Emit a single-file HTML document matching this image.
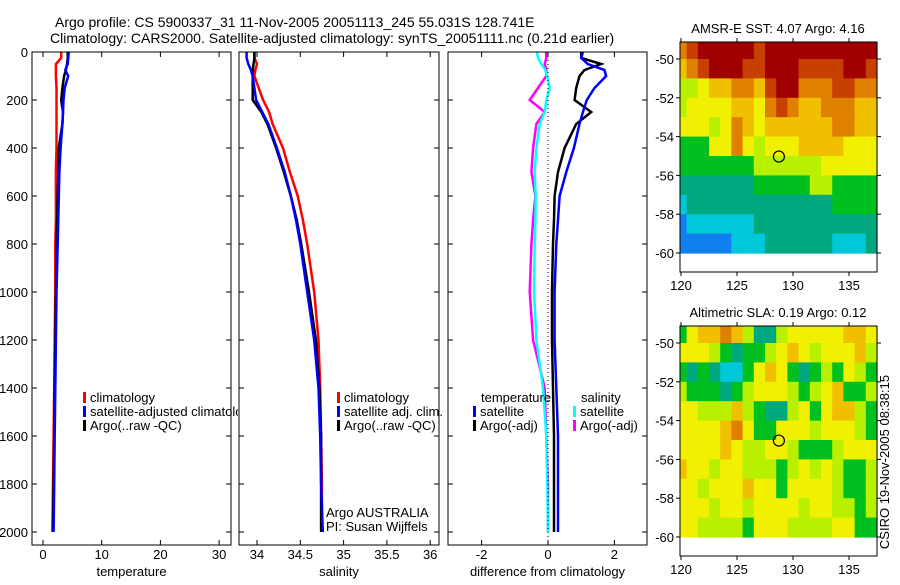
<!DOCTYPE html>
<html><head><meta charset="utf-8"><style>
body{margin:0;background:#fff;}
svg text{font-family:"Liberation Sans",sans-serif;fill:#000;}
</style></head><body>
<svg id="fig" width="900" height="580" xmlns="http://www.w3.org/2000/svg">
<defs><clipPath id="clip1"><rect x="0" y="0" width="238" height="580"/></clipPath></defs>
<text x="55" y="27" font-size="14">Argo profile: CS 5900337_31 11-Nov-2005 20051113_245 55.031S 128.741E</text>
<text x="50" y="43" font-size="14">Climatology: CARS2000. Satellite-adjusted climatology: synTS_20051111.nc (0.21d earlier)</text>
</svg>
<script>
const depths=[0,25,50,75,100,150,200,250,300,400,500,600,700,800,1000,1200,1400,1600,1800,2000];
const depthTicks=[0,200,400,600,800,1000,1200,1400,1600,1800,2000];
const tempClim=[3.1,3.1,2.2,2.2,2.2,2.3,2.3,2.3,2.3,2.3,2.2,2.2,2.2,2.1,2.1,2.0,1.9,1.8,1.7,1.6];
const tempSatAdj=[4.4,4.3,4.2,3.8,4.3,3.7,3.5,3.4,3.3,3.0,2.8,2.7,2.6,2.5,2.3,2.2,2.1,2.0,1.9,1.8];
const tempArgo=[4.2,4.2,4.1,3.9,3.6,3.3,3.1,3.4,3.3,2.7,2.6,2.5,2.4,2.3,2.2,2.1,2.0,1.9,1.8,1.7];
const salClim=[33.97,33.97,34.0,33.98,33.97,34.02,34.07,34.14,34.18,34.3,34.38,34.47,34.53,34.58,34.66,34.71,34.73,34.74,34.75,34.75];
const salSatAdj=[33.88,33.88,33.9,33.93,33.95,33.97,33.99,34.06,34.13,34.23,34.32,34.39,34.45,34.5,34.58,34.66,34.71,34.73,34.74,34.76];
const salArgo=[33.97,33.97,33.96,33.95,33.95,33.95,33.95,34.05,34.12,34.22,34.31,34.39,34.46,34.51,34.6,34.68,34.72,34.74,34.74,34.74];
const diffTempSat=[1.05,1.0,1.2,1.7,1.75,1.4,1.17,1.05,0.95,0.78,0.55,0.35,0.3,0.25,0.2,0.2,0.25,0.3,0.3,0.3];
const diffTempArgo=[1.0,1.0,1.6,1.1,0.95,0.85,0.8,1.3,0.85,0.5,0.3,0.2,0.18,0.15,0.12,0.12,0.15,0.18,0.18,0.18];
const diffSalSat=[-0.33,-0.3,-0.2,-0.08,-0.03,0.05,-0.05,-0.1,-0.25,-0.35,-0.4,-0.37,-0.38,-0.4,-0.42,-0.35,-0.15,-0.05,-0.02,0];
const diffSalArgo=[-0.06,-0.05,-0.1,-0.05,-0.05,-0.3,-0.55,-0.1,-0.35,-0.45,-0.5,-0.38,-0.45,-0.5,-0.55,-0.45,-0.1,-0.05,0,0];
const tempTicks=[0,10,20,30];
const salTicks=[34,34.5,35,35.5,36];
const salTickLabels=["34","34.5","35","35.5","36"];
const diffTicks=[-2,0,2];
const lonTicks=[120,125,130,135];
const latTicks=[-50,-52,-54,-56,-58,-60];
const mapLons=[120,121,122,123,124,125,126,127,128,129,130,131,132,133,134,135,136,137];
const mapLats=[-49.5,-50.5,-51.5,-52.5,-53.5,-54.5,-55.5,-56.5,-57.5,-58.5,-59.5];
const sstGrid=[
[8,9,10,10,10,10,10,9,10,10,10,10,10,10,10,10,10,10],
[7,8,9,10,10,10,9,9,10,10,10,9,9,9,9,10,10,9],
[5,5,6,7,7,8,8,7,9,10,10,8,8,8,9,9,8,8],
[5,6,6,6,6,7,7,6,8,9,8,7,7,8,8,8,7,7],
[6,6,6,5,6,8,7,6,7,7,7,7,7,7,8,8,7,7],
[4,4,4,6,6,8,6,5,6,6,6,7,7,7,7,6,6,6],
[4,4,4,4,4,4,4,5,5,5,5,5,5,6,6,6,6,6],
[3,3,3,3,3,3,3,4,4,4,4,4,5,5,4,4,4,4],
[2,3,3,3,3,3,3,3,3,3,3,3,3,3,4,4,4,4],
[1,2,2,2,2,2,2,3,3,3,3,3,3,3,3,3,3,3],
[1,1,1,1,1,2,2,2,3,3,3,3,3,3,2,2,2,3]];
const slaGrid=[
[4,6,7,7,8,7,5,3,3,5,6,6,6,6,6,7,7,6],
[6,6,6,5,4,3,4,4,5,6,7,6,5,6,6,6,7,5],
[4,3,4,3,2,2,4,6,7,6,4,3,4,5,4,6,5,4],
[5,4,4,4,3,4,5,6,6,6,5,4,5,6,7,4,4,5],
[6,6,5,5,5,7,5,4,3,3,5,6,4,6,7,7,5,4],
[6,6,6,6,7,8,6,4,4,6,6,6,5,6,6,6,5,4],
[6,6,6,6,7,6,5,5,6,6,5,4,4,4,5,6,6,6],
[7,6,6,5,6,6,5,5,5,4,5,6,5,6,5,4,4,5],
[6,6,5,6,6,6,7,6,6,4,6,6,6,6,5,4,4,5],
[6,6,6,5,6,6,5,6,6,6,6,5,6,6,5,5,4,5],
[6,6,5,5,5,5,4,6,6,6,5,5,5,5,6,6,4,4]];
const argoLon=128.74, argoLat=-55.03;
const palette=["#0030c0","#1080f0","#00c8d8","#00a880","#00c020","#b8f000","#f0f000","#f0c000","#e08000","#c84000","#a00000"];

const NS="http://www.w3.org/2000/svg";
const svg=document.getElementById('fig');
function mk(tag,attrs,parent){const e=document.createElementNS(NS,tag);for(const k in attrs)e.setAttribute(k,attrs[k]);(parent||svg).appendChild(e);return e;}
const yD=d=>52+d*0.24;

function profilePanel(name,x0,x1,xf,ticks,labels,xlabel,series){
  const g=mk('g',{});
  
  
  series.forEach(s=>{
    const pts=depths.map((d,i)=>xf(s.vals[i]).toFixed(1)+','+yD(d).toFixed(1)).join(' ');
    const p=mk('polyline',{points:pts,fill:'none',stroke:s.color,'stroke-width':2.5},g);
    
    
  });
  const r=mk('rect',{x:x0,y:52,width:x1-x0,height:493,fill:'none',stroke:'#000','stroke-width':1},g);
  
  
  depthTicks.forEach(d=>{
    mk('line',{x1:x0,x2:x0+5,y1:yD(d),y2:yD(d),stroke:'#000'},g);
    mk('line',{x1:x1,x2:x1-5,y1:yD(d),y2:yD(d),stroke:'#000'},g);
    if(name==='temperature'){const t=mk('text',{x:28,y:yD(d)+5,'text-anchor':'end','font-size':13},g);t.textContent=d;
      
      }
  });
  ticks.forEach((v,i)=>{
    const x=xf(v);
    mk('line',{x1:x,x2:x,y1:545,y2:540,stroke:'#000'},g);
    mk('line',{x1:x,x2:x,y1:52,y2:57,stroke:'#000'},g);
    const t=mk('text',{x:x,y:559,'text-anchor':'middle','font-size':13},g);t.textContent=labels[i];
    
    
  });
  const xl=mk('text',{x:(x0+x1)/2,y:576,'text-anchor':'middle','font-size':13},g);xl.textContent=xlabel;
  
  
  return g;
}
function legend(g,x,y,color,label){
  const m=mk('rect',{x:x,y:y-10,width:3,height:11,fill:color},g);
  
  
  const t=mk('text',{x:x+7,y:y,'font-size':13},g);t.textContent=label;
  
  
}
const xT=v=>43+v*5.87;
let g1=profilePanel('temperature',32,231,xT,tempTicks,tempTicks.map(String),'temperature',[
 {vals:tempClim,color:'#f00',name:'temp-climatology-line'},{vals:tempArgo,color:'#000',name:'temp-argo-line'},{vals:tempSatAdj,color:'#00f',name:'temp-satellite-line'}]);
const lg1=mk('g',{'clip-path':'url(#clip1)'},g1);


legend(lg1,83,402,'#f00','climatology');legend(lg1,83,416,'#00f','satellite-adjusted climatology');legend(lg1,83,430,'#000','Argo(..raw -QC)');
const xS=v=>257+(v-34)*86.6;
let g2=profilePanel('salinity',239,439,xS,salTicks,salTickLabels,'salinity',[
 {vals:salClim,color:'#f00',name:'sal-climatology-line'},{vals:salArgo,color:'#000',name:'sal-argo-line'},{vals:salSatAdj,color:'#00f',name:'sal-satellite-line'}]);
legend(g2,337,402,'#f00','climatology');legend(g2,337,416,'#00f','satellite adj. clim.');legend(g2,337,430,'#000','Argo(..raw -QC)');
let t1=mk('text',{x:326,y:517,'font-size':13},g2);t1.textContent='Argo AUSTRALIA';

let t2=mk('text',{x:326,y:531,'font-size':13},g2);t2.textContent='PI: Susan Wijffels';

const xDf=v=>548+v*33.2;
let g3=profilePanel('difference',448,647,xDf,diffTicks,diffTicks.map(String),'difference from climatology',[
 {vals:diffSalArgo,color:'#f0f',name:'sal-argo-diff-line'},{vals:diffSalSat,color:'#0ff',name:'sal-satellite-diff-line'},{vals:diffTempArgo,color:'#000',name:'temp-argo-diff-line'},{vals:diffTempSat,color:'#00f',name:'temp-satellite-diff-line'}]);
let zl=mk('line',{x1:xDf(0),x2:xDf(0),y1:52,y2:545,stroke:'#000','stroke-dasharray':'1,3'},g3);

let lt=mk('text',{x:481,y:402,'font-size':13},g3);lt.textContent='temperature';

let ls=mk('text',{x:581,y:402,'font-size':13},g3);ls.textContent='salinity';

legend(g3,473,416,'#00f','satellite');legend(g3,473,430,'#000','Argo(-adj)');
legend(g3,573,416,'#0ff','satellite');legend(g3,573,430,'#f0f','Argo(-adj)');

function mapPanel(name,top,latM50,title,grid){
  const g=mk('g',{});
  
  
  const pxLat=19.4;
  const yL=l=>latM50+(-50-l)*pxLat;
  const xL=l=>681+(l-120)*11.2;
  const bottom=top+230;
  const cg=mk('g',{},g);
  
  
  mapLats.forEach((la,i)=>mapLons.forEach((lo,j)=>{
    let y0=Math.max(top,yL(la+0.5)), y1=yL(la-0.5);
    let x0=Math.max(680,xL(lo-0.5)), x1=Math.min(877,xL(lo+0.5));
    const c=mk('rect',{x:x0.toFixed(1),y:y0.toFixed(1),width:(x1-x0+0.6).toFixed(1),height:(y1-y0+0.6).toFixed(1),fill:palette[grid[i][j]]},cg);
    
    
  }));
  const b=mk('rect',{x:680,y:top,width:197,height:230,fill:'none',stroke:'#000'},g);
  
  latTicks.forEach(l=>{const y=yL(l);
    mk('line',{x1:680,x2:676,y1:y,y2:y,stroke:'#000'},g);
    mk('line',{x1:877,x2:881,y1:y,y2:y,stroke:'#000'},g);
    const t=mk('text',{x:674,y:y+5,'text-anchor':'end','font-size':13},g);t.textContent=l;
    });
  lonTicks.forEach(l=>{const x=xL(l);
    mk('line',{x1:x,x2:x,y1:top,y2:top-4,stroke:'#000'},g);
    mk('line',{x1:x,x2:x,y1:bottom,y2:bottom+4,stroke:'#000'},g);
    const t=mk('text',{x:x,y:bottom+18,'text-anchor':'middle','font-size':13},g);t.textContent=l;
    });
  const tt=mk('text',{x:778,y:top-9,'text-anchor':'middle','font-size':13},g);tt.textContent=title;
  
  const c=mk('circle',{cx:xL(argoLon),cy:yL(argoLat),r:5.5,fill:'none',stroke:'#000','stroke-width':1.2},g);
  
}
mapPanel('sst',42,59,'AMSR-E SST: 4.07 Argo: 4.16',sstGrid);
mapPanel('sla',326,343,'Altimetric SLA: 0.19 Argo: 0.12',slaGrid);
const ts=mk('text',{transform:'translate(889,462) rotate(-90)','text-anchor':'middle','font-size':13});
ts.textContent='CSIRO 19-Nov-2005 08:38:15';


</script>
</body></html>
